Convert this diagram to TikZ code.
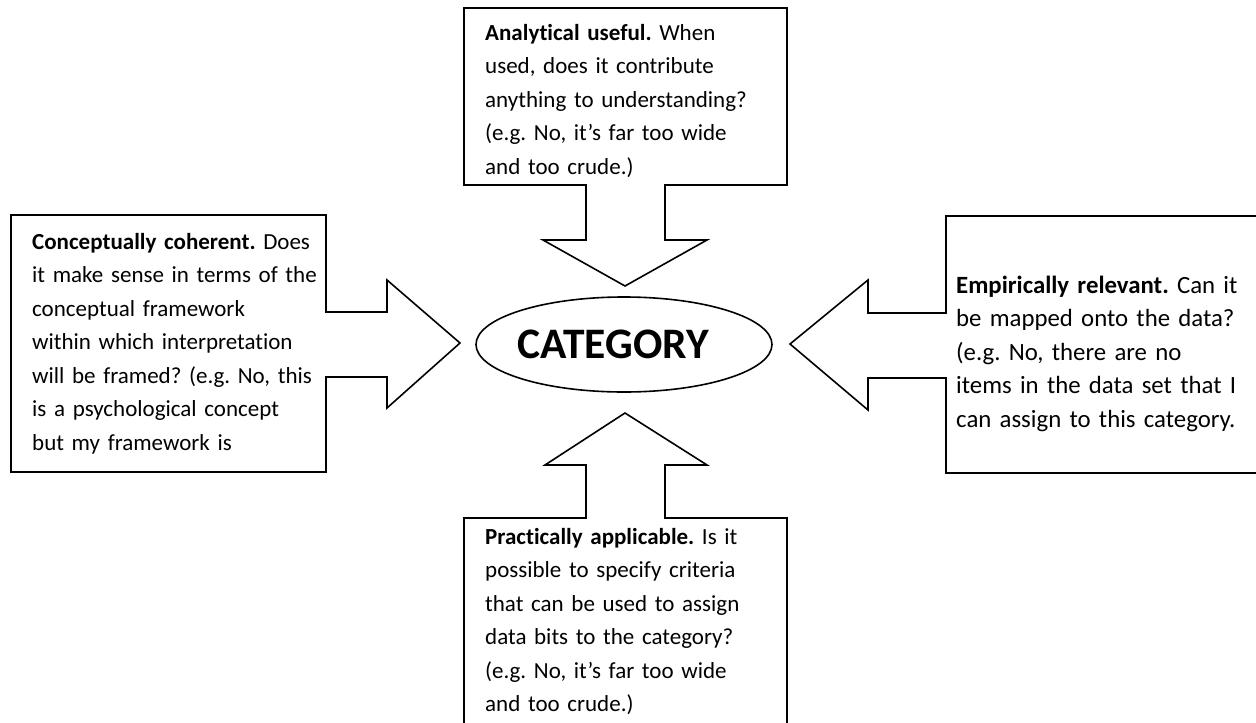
\documentclass[tikz,border=0pt]{standalone}
\usepackage{fontspec}
\setmainfont{Carlito}[Ligatures=NoCommon]
\usetikzlibrary{shapes.geometric}
\begin{document}
\frenchspacing
\begin{tikzpicture}[x=1pt,y=-1pt,
  callout/.style={draw=black,line width=1.6pt,fill=white,line join=miter},
  txt/.style={anchor=base west,inner sep=0pt,align=left,text width=340pt,
    font=\fontsize{#1}{33.5}\selectfont\frenchspacing},
  catnode/.style={ellipse,draw=black,line width=1.6pt,minimum width=296pt,minimum height=95pt,inner sep=0pt,
    font=\fontsize{43.5}{50}\selectfont\bfseries}]
\useasboundingbox (0,0) rectangle (1256,723);
\clip (0,0) rectangle (1256,723);
\fill[white] (0,0) rectangle (1256,723);
% top callout
\draw[callout] (464,8) -- (787,8) -- (787,185) -- (665,185) -- (665,240) -- (707,240)
  -- (625,286) -- (543,240) -- (586,240) -- (586,185) -- (464,185) -- cycle;
% left callout
\draw[callout] (11,215) -- (326,215) -- (326,312) -- (387,312) -- (387,280) -- (460,343)
  -- (387,408) -- (387,377) -- (326,377) -- (326,472) -- (11,472) -- cycle;
% right callout
\draw[callout] (946,216) -- (1275,216) -- (1275,473) -- (946,473) -- (946,378) -- (868,378)
  -- (868,410) -- (790,344) -- (868,280) -- (868,313) -- (946,313) -- cycle;
% bottom callout
\draw[callout] (464,745) -- (464,518) -- (586,518) -- (586,465) -- (545,465) -- (625,413)
  -- (707,465) -- (665,465) -- (665,518) -- (787,518) -- (787,745) -- cycle;
% centre
\node[catnode] (cat) at (624,344.5) {\hspace*{-22pt}CATEGORY};
% texts
\node[txt=23] (top) at (485,40) {\textbf{Analytical useful.} When\\ used, does it contribute\\ anything to understanding?\\ (e.g. No, it’s far too wide\\ and too crude.)};
\node[txt=23] (left) at (32,249) {\textbf{Conceptually coherent.} Does\\ it make sense in terms of the\\ conceptual framework\\ within which interpretation\\ will be framed? (e.g. No, this\\ is a psychological concept\\ but my framework is};
\node[txt=24.8] (right) at (956,293) {\textbf{Empirically relevant.} Can it\\ be mapped onto the data?\\ (e.g. No, there are no\\ items in the data set that I\\ can assign to this category.};
\node[txt=23] (bottom) at (485,544) {\textbf{Practically applicable.} Is it\\ possible to specify criteria\\ that can be used to assign\\ data bits to the category?\\ (e.g. No, it’s far too wide\\ and too crude.)};
\end{tikzpicture}
\end{document}
